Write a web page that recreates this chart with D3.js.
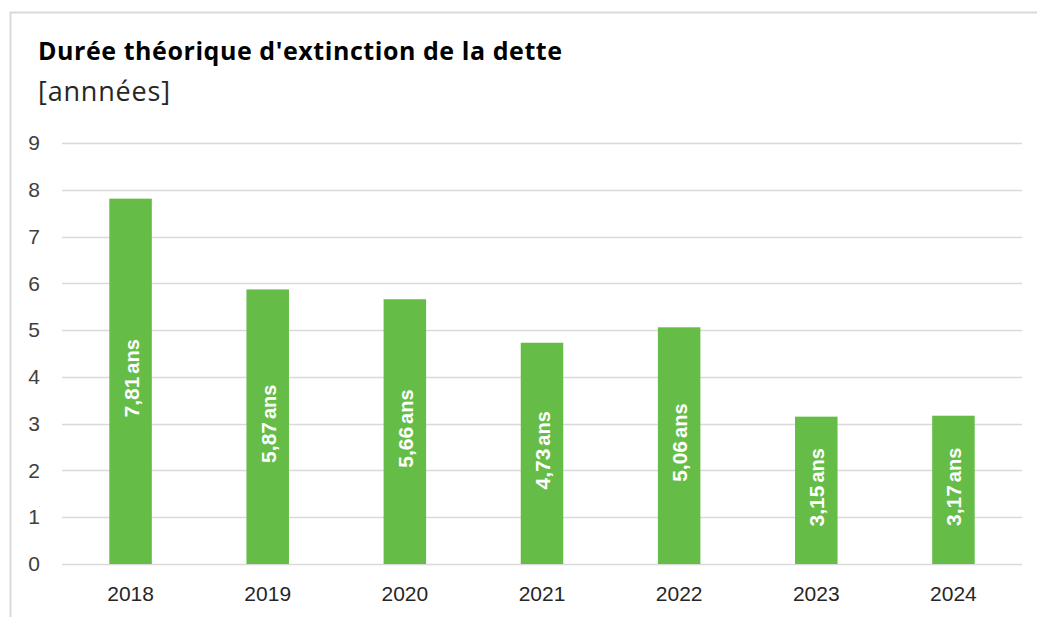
<!DOCTYPE html>
<html><head><meta charset="utf-8">
<script src="https://cdn.jsdelivr.net/npm/d3@7"></script>
<style>body{margin:0;background:#fff}svg{display:block}</style>
</head><body>
<script>
const categories = ["2018","2019","2020","2021","2022","2023","2024"];
const values = [7.81, 5.87, 5.66, 4.73, 5.06, 3.15, 3.17];
const yTicks = [0,1,2,3,4,5,6,7,8,9];

const W = 1037, H = 617;
const svg = d3.select("body").append("svg").attr("width", W).attr("height", H);
svg.append("rect").attr("x", 10.5).attr("y", 12.5).attr("width", 1040).attr("height", 640)
  .attr("fill", "#fff").attr("stroke", "#d9d9d9").attr("stroke-width", 2);

const x = d3.scaleBand().domain(categories).range([62, 1022]).paddingInner(0.69).paddingOuter(0.345);
const y = d3.scaleLinear().domain([0, 9]).range([564, 143]);

svg.append("text").attr("x", 38).attr("y", 60).attr("font-family", "'Open Sans', Roboto, sans-serif")
  .attr("font-weight", "bold").attr("font-size", 25).attr("fill", "#000")
  .attr("textLength", 524).attr("lengthAdjust", "spacing")
  .text("Durée théorique d'extinction de la dette");
svg.append("text").attr("x", 38).attr("y", 101).attr("font-family", "'Open Sans', Roboto, sans-serif")
  .attr("font-size", 27).attr("fill", "#262626")
  .attr("textLength", 132).attr("lengthAdjust", "spacing")
  .text("[annnées]");

const g = svg.append("g");
g.selectAll("line.grid").data(yTicks).join("line").attr("class", "grid")
  .attr("x1", 62).attr("x2", 1022).attr("y1", d => Math.round(y(d)) + 0.5).attr("y2", d => Math.round(y(d)) + 0.5)
  .attr("stroke", "#d9d9d9").attr("stroke-width", 1.5);

const yAxis = d3.axisLeft(y).tickValues(yTicks).tickSize(0).tickPadding(0);
svg.append("g").attr("transform", "translate(40,0)").call(yAxis)
  .call(s => s.select(".domain").remove())
  .call(s => s.selectAll("text").attr("font-family", "'Liberation Sans', Arial, sans-serif").attr("font-size", 21).attr("fill", "#404040"));

const xAxis = d3.axisBottom(x).tickSize(0).tickPadding(0);
svg.append("g").attr("transform", "translate(0,586)").call(xAxis)
  .call(s => s.select(".domain").remove())
  .call(s => s.selectAll("text").attr("font-family", "'Liberation Sans', Arial, sans-serif").attr("font-size", 21).attr("fill", "#262626"));

g.selectAll("rect.bar").data(values).join("rect").attr("class", "bar")
  .attr("x", (d, i) => x(categories[i])).attr("width", x.bandwidth())
  .attr("y", d => y(d)).attr("height", d => y(0) - y(d)).attr("fill", "#65bd47");

const lbl = g.selectAll("text.lbl").data(values).join("text").attr("class", "lbl")
  .attr("transform", (d, i) => `translate(${x(categories[i]) + x.bandwidth()/2 + 8},${(y(d) + y(0))/2 - 3}) rotate(-90)`)
  .attr("text-anchor", "middle").attr("fill", "#fff").attr("font-weight", "bold")
  .attr("font-family", "'Liberation Sans', Arial, sans-serif");
lbl.append("tspan").attr("font-size", 21).text(d => d.toFixed(2).replace(".", ","));
lbl.append("tspan").attr("font-size", 20).attr("dx", 3).text("ans");
</script>
</body></html>
